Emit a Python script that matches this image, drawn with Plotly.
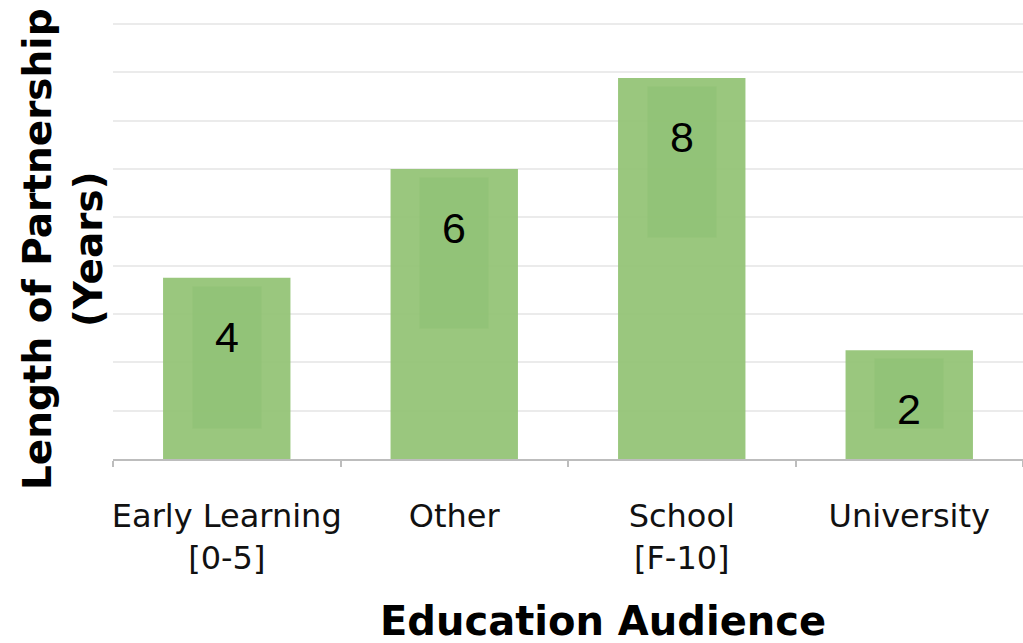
import plotly.graph_objects as go

# Education audience categories and partnership length (years)
categories = ["Early Learning<br>[0-5]", "Other", "School<br>[F-10]", "University"]
years = [3.75, 6.0, 7.88, 2.25]

BAR = "rgba(148,195,118,0.94)"
BOX = "rgba(138,190,112,0.45)"
Y_MAX = 9.1
PLOT_H = 643 - 19 - 184
PX_PER_UNIT = PLOT_H / Y_MAX

fig = go.Figure(
    go.Bar(
        x=categories,
        y=years,
        marker=dict(color=BAR, line=dict(width=0)),
        hoverinfo="x+y",
    )
)

# Rounded value labels, each on a slightly darker panel inside its bar
for cat, v in zip(categories, years):
    bar_px = v * PX_PER_UNIT
    box_h = min(150, bar_px - 40)
    fig.add_annotation(
        x=cat, y=v, xref="x", yref="y",
        text=" ", showarrow=False,
        width=68, height=box_h, bgcolor=BOX, borderpad=0,
        yanchor="top", yshift=-8,
    )
    fig.add_annotation(
        x=cat, y=v, xref="x", yref="y",
        text=f"{round(v):d}", showarrow=False,
        font=dict(family="Liberation Sans, Arial", size=43, color="#000000"),
        yanchor="middle", yshift=-59,
    )

# Axis titles
fig.add_annotation(
    x=0, y=0.477, xref="paper", yref="paper",
    xanchor="center", yanchor="middle", xshift=-50,
    text="Length of Partnership<br>(Years)", textangle=-90, showarrow=False,
    font=dict(family="DejaVu Sans", size=39, color="#000000", weight="bold"),
)
fig.add_annotation(
    x=0.538, y=0, xref="paper", yref="paper",
    xanchor="center", yanchor="middle", yshift=-162,
    text="Education Audience", showarrow=False,
    font=dict(family="DejaVu Sans", size=40, color="#000000", weight="bold"),
)

fig.update_layout(
    width=1023, height=643,
    margin=dict(l=113, r=0, t=19, b=184, autoexpand=False),
    paper_bgcolor="white", plot_bgcolor="white",
    bargap=0.44,
    showlegend=False,
    font=dict(family="DejaVu Sans", color="#111111"),
)
fig.update_xaxes(
    showline=True, linecolor="#bdbdbd", linewidth=2,
    ticks="outside", tickson="boundaries", ticklen=6, tickwidth=2, tickcolor="#bdbdbd",
    tickfont=dict(family="DejaVu Sans", size=32, color="#111111"),
    tickangle=0, automargin=False,
    ticklabelstandoff=28,
    showgrid=False,
)
fig.update_yaxes(
    range=[0, Y_MAX], dtick=1, showticklabels=False,
    showgrid=True, gridcolor="#ebebeb", gridwidth=2,
    zeroline=False, showline=False, automargin=False,
)

fig.write_html("out.html")
